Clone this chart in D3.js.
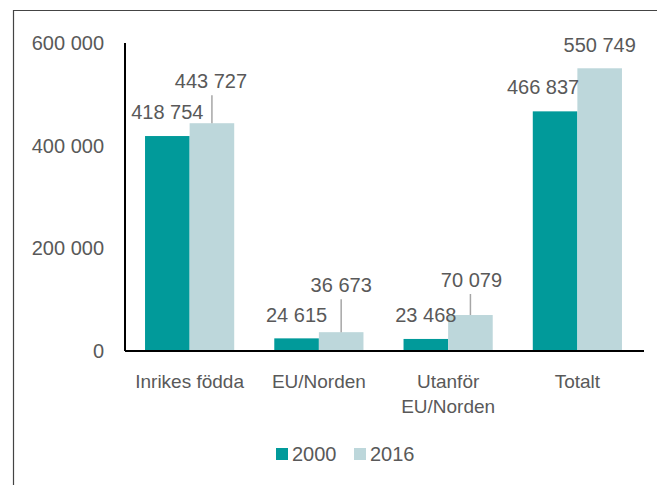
<!DOCTYPE html>
<html>
<head>
<meta charset="utf-8">
<script src="https://cdn.jsdelivr.net/npm/d3@7"></script>
<style>
  body { margin: 0; background: #fff; }
  svg text { font-family: "Liberation Sans", Arial, sans-serif; fill: #595959; }
</style>
</head>
<body>
<div id="chart"></div>
<script>
// data
var categories = ["Inrikes födda", "EU/Norden", "Utanför\nEU/Norden", "Totalt"];
var seriesNames = ["2000", "2016"];
var values2000 = [418754, 24615, 23468, 466837];
var values2016 = [443727, 36673, 70079, 550749];
var yTicks = [0, 200000, 400000, 600000];

var width = 657, height = 485;
var color = ["#019a9a", "#bdd7db"];

var svg = d3.select("#chart").append("svg")
    .attr("width", width)
    .attr("height", height);

// frame (top + left)
svg.append("path")
    .attr("d", "M13.5," + height + "V10.5H" + width)
    .attr("fill", "none")
    .attr("stroke", "#444")
    .attr("stroke-width", 1.2);

var margin = { left: 125, right: 15, top: 43, bottom: 134 };
var plotW = width - margin.left - margin.right;
var plotH = height - margin.top - margin.bottom;

var x = d3.scaleBand()
    .domain(categories)
    .range([margin.left, margin.left + plotW])
    .paddingInner(0.31)
    .paddingOuter(0.155);

var xs = d3.scaleBand()
    .domain(seriesNames)
    .range([0, x.bandwidth()]);

var y = d3.scaleLinear()
    .domain([0, 600000])
    .range([margin.top + plotH, margin.top]);

var fmt = function(v) { return d3.format(",")(v).replace(/,/g, " "); };

// y labels
svg.append("g").selectAll("text")
    .data(yTicks)
    .enter().append("text")
    .attr("x", 104)
    .attr("y", function(d) { return y(d); })
    .attr("dy", "0.35em")
    .attr("text-anchor", "end")
    .style("font-size", "20px")
    .text(fmt);

var rows = categories.map(function(c, i) {
  return { cat: c, vals: [values2000[i], values2016[i]] };
});

// bars
var groups = svg.append("g").selectAll("g")
    .data(rows)
    .enter().append("g")
    .attr("transform", function(d) { return "translate(" + x(d.cat) + ",0)"; });

groups.selectAll("rect")
    .data(function(d) { return d.vals.map(function(v, j) { return { s: seriesNames[j], v: v, j: j }; }); })
    .enter().append("rect")
    .attr("x", function(d) { return xs(d.s); })
    .attr("width", xs.bandwidth())
    .attr("y", function(d) { return y(d.v); })
    .attr("height", function(d) { return y(0) - y(d.v); })
    .attr("fill", function(d) { return color[d.j]; });

// axis lines
svg.append("line")
    .attr("x1", margin.left).attr("x2", margin.left)
    .attr("y1", margin.top).attr("y2", y(0))
    .attr("stroke", "#000").attr("stroke-width", 2);
svg.append("line")
    .attr("x1", margin.left).attr("x2", margin.left + plotW + 2)
    .attr("y1", y(0)).attr("y2", y(0))
    .attr("stroke", "#000").attr("stroke-width", 2);

// data labels (moved labels, with leader lines for 2016)
var labelLift = [[24, 42], [23, 47], [24, 35], [24, 23]];
var labelShift = [[0, -1], [0, 0], [0, 1], [-12, 0]];
var leader = [[false, true], [false, true], [false, true], [false, false]];

rows.forEach(function(r, i) {
  r.vals.forEach(function(v, j) {
    var cx = x(r.cat) + xs(seriesNames[j]) + xs.bandwidth() / 2;
    var top = y(v);
    var ly = top - labelLift[i][j];
    if (leader[i][j]) {
      svg.append("line")
          .attr("x1", cx).attr("x2", cx)
          .attr("y1", ly + 14).attr("y2", top)
          .attr("stroke", "#a6a6a6").attr("stroke-width", 1.5);
    }
    svg.append("text")
        .attr("x", cx + labelShift[i][j])
        .attr("y", ly)
        .attr("dy", "0.35em")
        .attr("text-anchor", "middle")
        .style("font-size", "20px")
        .text(fmt(v));
  });
});

// category labels
svg.append("g").selectAll("text")
    .data(categories)
    .enter().append("text")
    .attr("x", function(d) { return x(d) + x.bandwidth() / 2; })
    .attr("y", 381)
    .attr("text-anchor", "middle")
    .style("font-size", "19px")
    .each(function(d) {
      var t = d3.select(this);
      d.split("\n").forEach(function(line, k) {
        t.append("tspan")
            .attr("x", x(d) + x.bandwidth() / 2)
            .attr("dy", k === 0 ? "0.35em" : "25px")
            .text(line);
      });
    });

// legend
var legend = svg.append("g").selectAll("g")
    .data(seriesNames)
    .enter().append("g")
    .attr("transform", function(d, i) { return "translate(" + (276 + i * 78) + ",454)"; });
legend.append("rect")
    .attr("x", 0).attr("y", -6)
    .attr("width", 12).attr("height", 12)
    .attr("fill", function(d, i) { return color[i]; });
legend.append("text")
    .attr("x", 16)
    .attr("dy", "0.35em")
    .style("font-size", "20px")
    .text(function(d) { return d; });
</script>
</body>
</html>
